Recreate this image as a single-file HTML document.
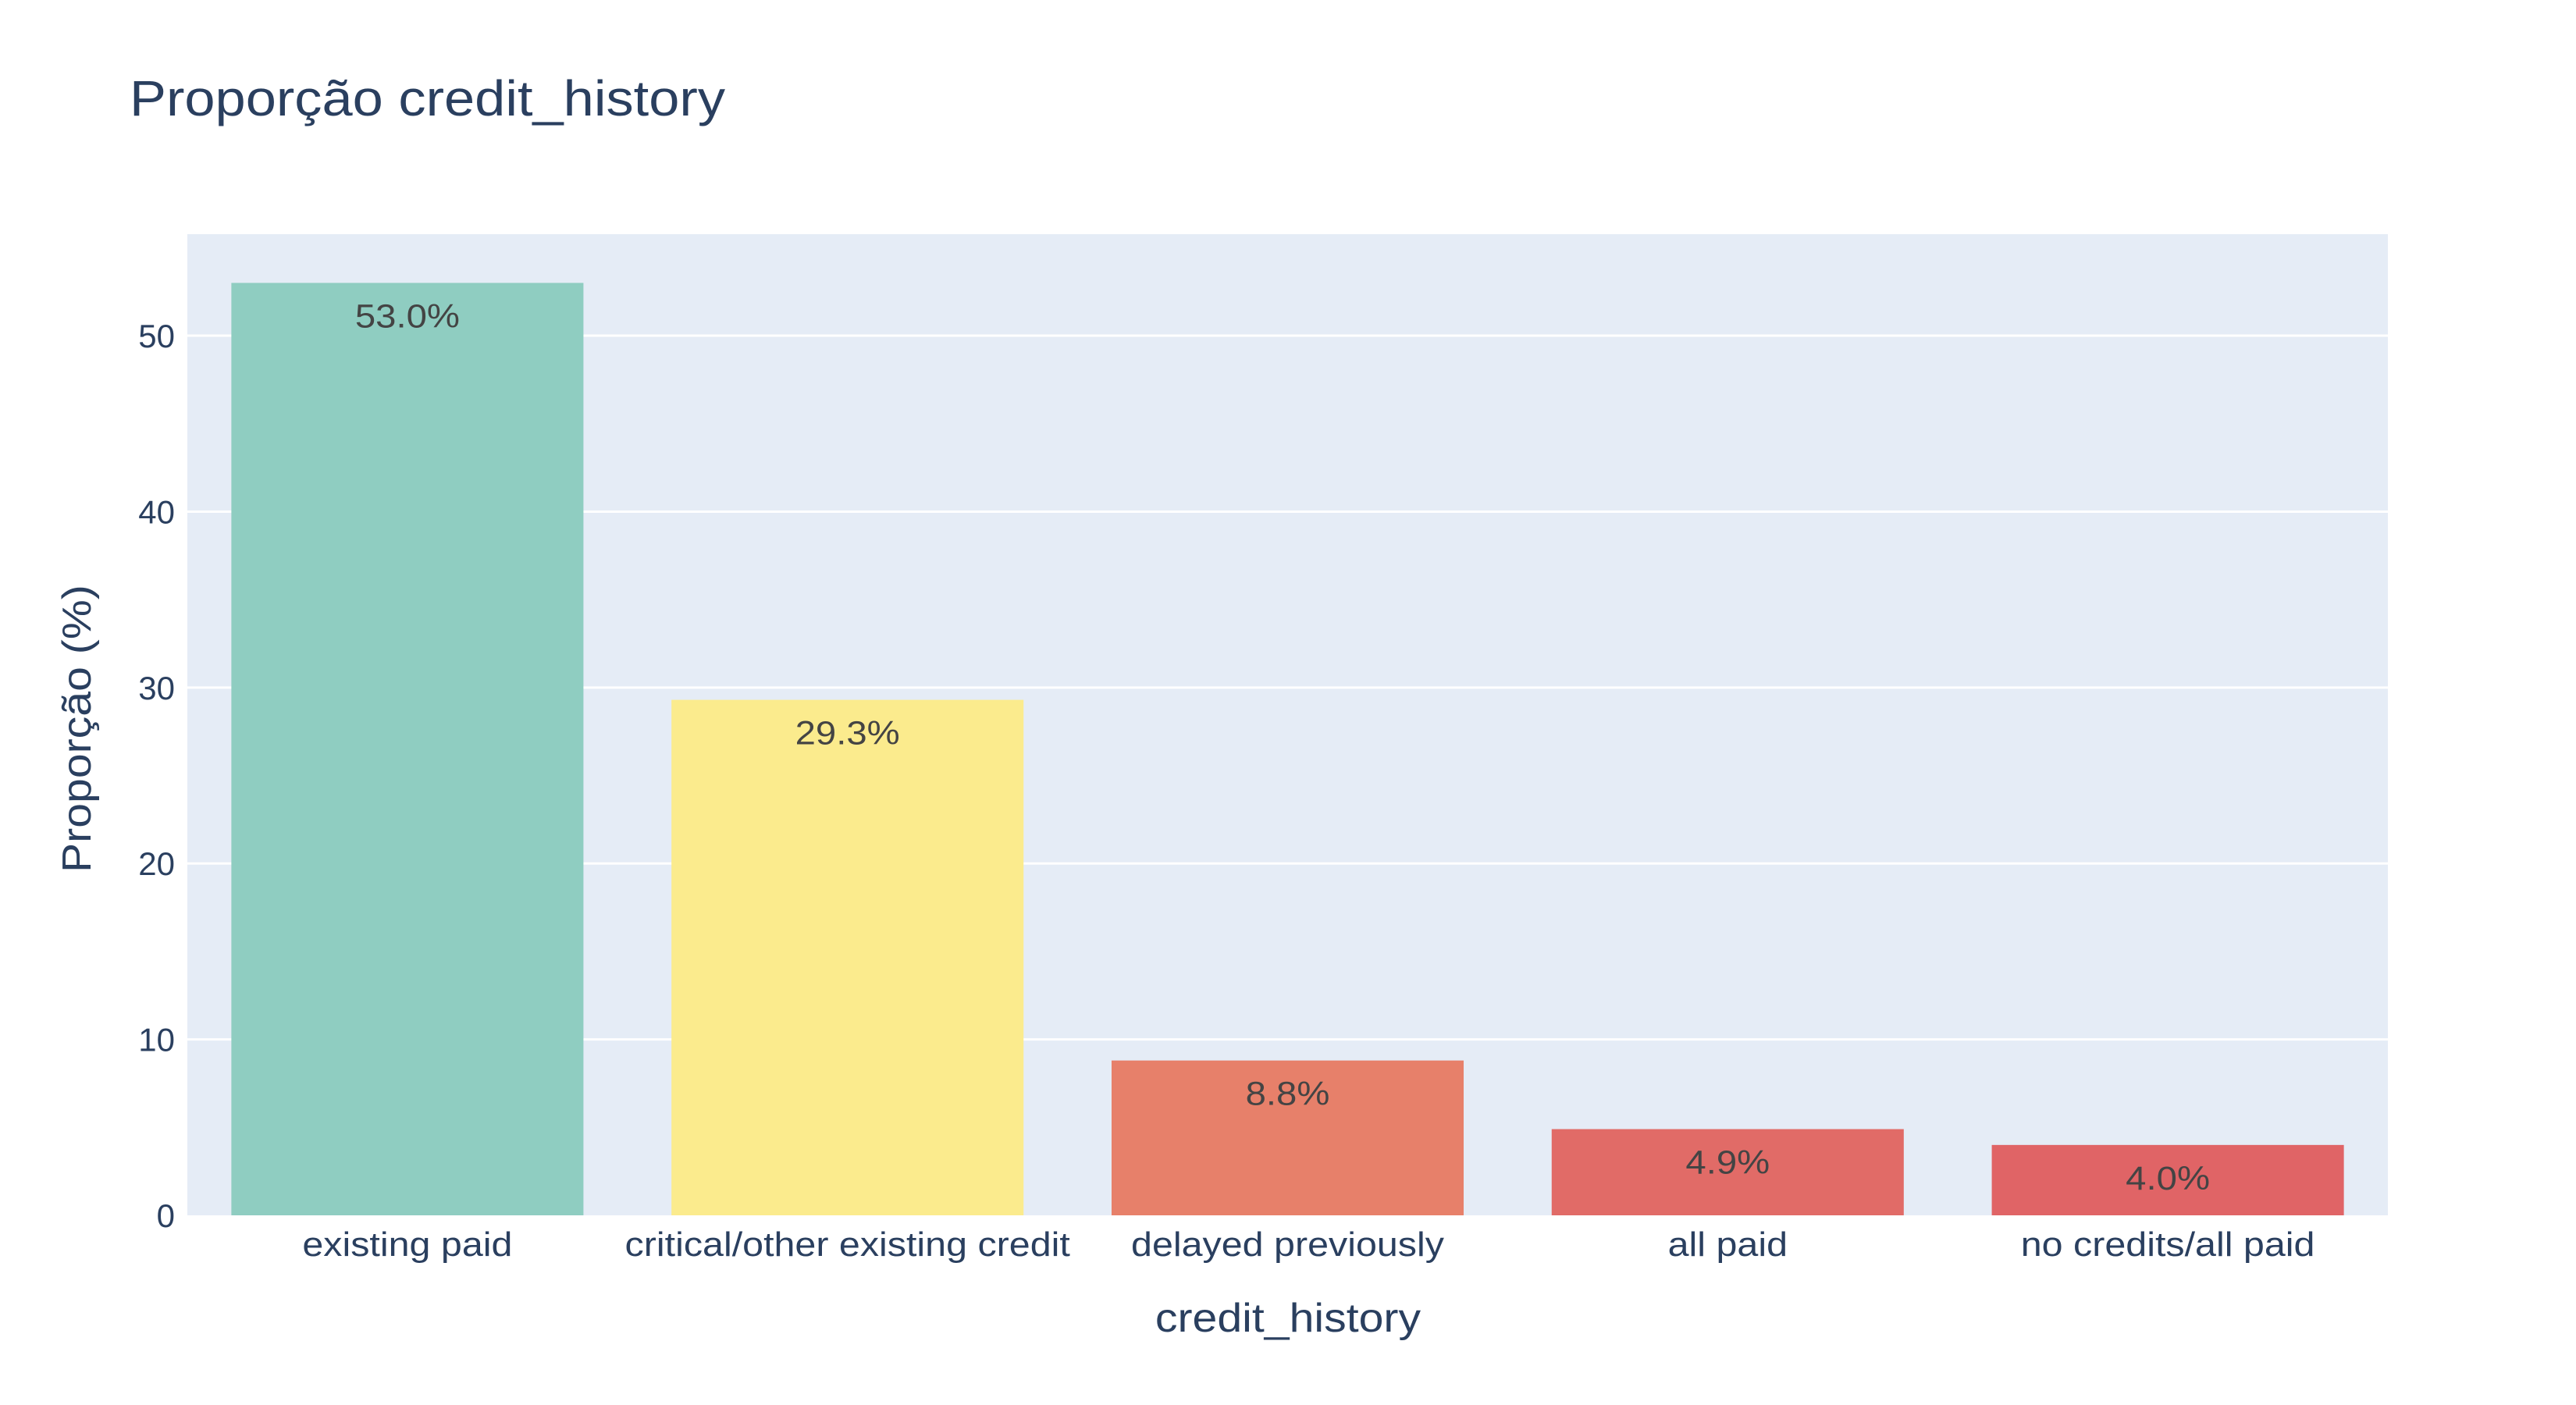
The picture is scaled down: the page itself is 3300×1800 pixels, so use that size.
<!DOCTYPE html>
<html><head><meta charset="utf-8"><style>
body{margin:0;background:#fff}
svg{display:block;font-family:"Liberation Sans",sans-serif}
</style></head><body>
<svg id="chart" width="3300" height="1800" xmlns="http://www.w3.org/2000/svg">
<rect width="3300" height="1800" fill="#fff"/>
<text class="wide" x="166" y="148" font-size="64" fill="#2a3f5f">Proporção credit_history</text>
<rect x="240" y="300" width="2819" height="1257" fill="#e5ecf6"/>
<g id="grid"></g><g id="bars"></g><g id="labels"></g>
<text class="wide" x="1650" y="1706" font-size="52" fill="#2a3f5f" text-anchor="middle">credit_history</text>
<text class="wide" transform="translate(116,1118) rotate(-90)" font-size="52" fill="#2a3f5f">Proporção (%)</text>
</svg>
<script>
const categories=["existing paid","critical/other existing credit","delayed previously","all paid","no credits/all paid"];
const values=[53.0,29.3,8.8,4.9,4.0];
const yTicks=[0,10,20,30,40,50];
const colors=["#8fcdc1","#fbeb8d","#e7806a","#e16b67","#e06466"];
const NS="http://www.w3.org/2000/svg";
const L=240,R=3059,Y0=1557,YT=300,YMAX=55.77;
const y=v=>Y0-(Y0-YT)*v/YMAX;
const band=(R-L)/categories.length;
const xc=i=>L+band*(i+0.5);
function mk(t,a,p){const e=document.createElementNS(NS,t);for(const k in a)e.setAttribute(k,a[k]);p.appendChild(e);return e;}
const g=document.getElementById('grid'),b=document.getElementById('bars'),lb=document.getElementById('labels');
yTicks.forEach(t=>{
 if(t>0){const l=mk('line',{x1:L,x2:R,y1:y(t),y2:y(t),stroke:'#fff','stroke-width':3},g);
 
 }
 const tx=mk('text',{x:224,y:y(t)+15,'font-size':42,fill:'#2a3f5f','text-anchor':'end'},lb);
 tx.textContent=t;
 
 
});
categories.forEach((c,i)=>{
 const w=band*0.8,top=y(values[i]);
 const r=mk('rect',{x:xc(i)-w/2,y:top,width:w,height:Y0-top,fill:colors[i]},b);
 
 
 const v=mk('text',{x:xc(i),y:top+57,'font-size':43,fill:'#444','text-anchor':'middle'},lb);
 v.textContent=values[i].toFixed(1)+'%';
 v.setAttribute('class','wide');
 
 
 const tl=mk('text',{x:xc(i),y:1609,'font-size':44,fill:'#2a3f5f','text-anchor':'middle'},lb);
 tl.textContent=c;
 tl.setAttribute('class','wide');
 
 
});
document.querySelectorAll('.wide').forEach(t=>{
 const w=t.getComputedTextLength();
 t.setAttribute('textLength',w*1.1);
 t.setAttribute('lengthAdjust','spacingAndGlyphs');
});
</script>
</body></html>
